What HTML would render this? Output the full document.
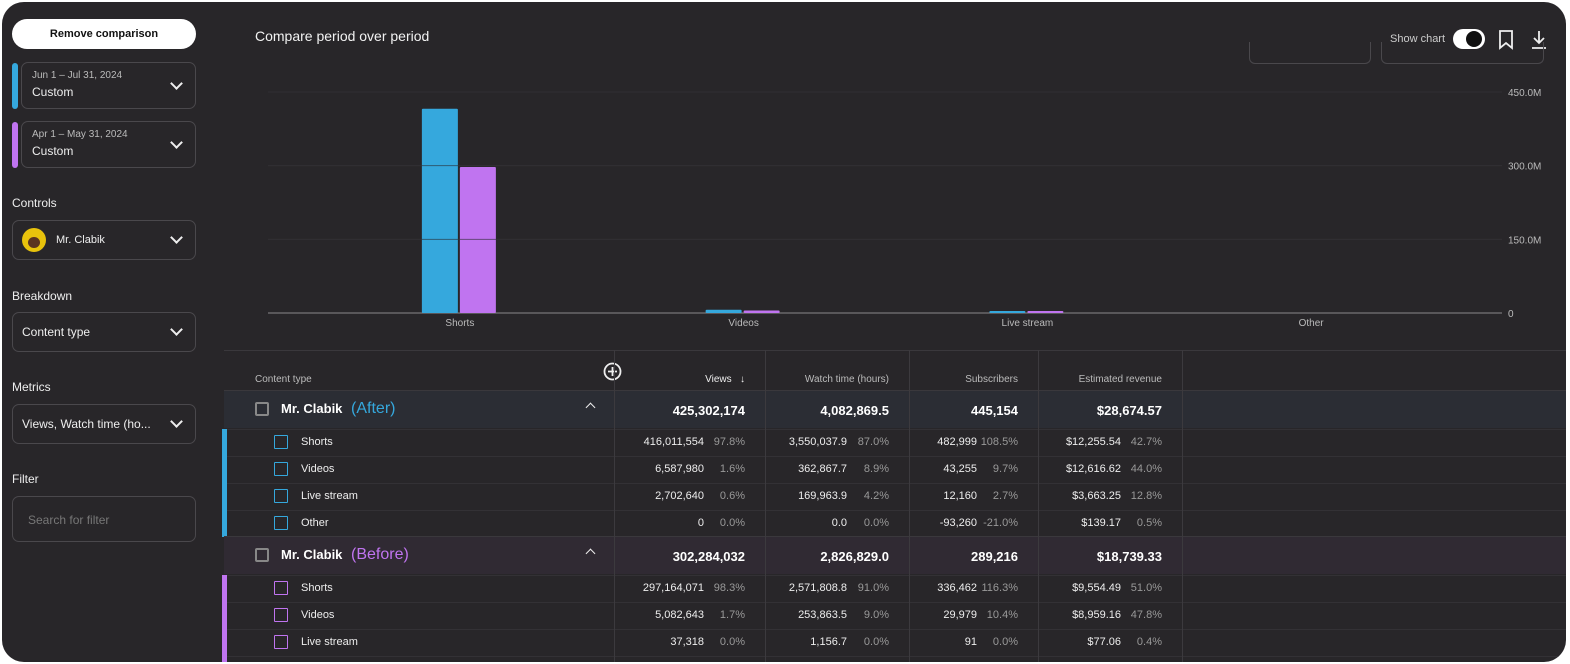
<!DOCTYPE html>
<html><head><meta charset="utf-8"><style>
*{box-sizing:border-box;margin:0;padding:0}
body{width:1570px;height:664px;background:#fff;font-family:"Liberation Sans",sans-serif;overflow:hidden;position:relative}
#panel{position:absolute;left:2px;top:2px;width:1564px;height:660px;background:#282629;border-radius:22px;overflow:hidden;color:#eee}
.abs{position:absolute}
.box{position:absolute;border:1px solid #4a484c;border-radius:7px}
.chev{position:absolute;width:9px;height:9px;border-right:2px solid #eee;border-bottom:2px solid #eee;transform:rotate(45deg)}
</style></head><body>
<div id="panel">
<div class="abs" style="left:10px;top:17px;width:184px;height:30px;background:#fff;border-radius:15px;color:#111;font-size:11px;font-weight:bold;text-align:center;line-height:30px">Remove comparison</div>
<div class="abs" style="left:10px;top:61px;width:6px;height:46px;background:#35a8dd;border-radius:3px"></div>
<div class="box" style="left:19px;top:60px;width:175px;height:47px">
 <div class="abs" style="left:10px;top:7px;font-size:10px;color:#bbb">Jun 1 – Jul 31, 2024</div>
 <div class="abs" style="left:10px;top:22px;font-size:12px">Custom</div>
 <div class="chev" style="left:150px;top:16px"></div></div>
<div class="abs" style="left:10px;top:120px;width:6px;height:46px;background:#c074f0;border-radius:3px"></div>
<div class="box" style="left:19px;top:119px;width:175px;height:47px">
 <div class="abs" style="left:10px;top:7px;font-size:10px;color:#bbb">Apr 1 – May 31, 2024</div>
 <div class="abs" style="left:10px;top:22px;font-size:12px">Custom</div>
 <div class="chev" style="left:150px;top:16px"></div></div>
<div class="abs" style="left:10px;top:194px;font-size:12px">Controls</div>
<div class="box" style="left:10px;top:218px;width:184px;height:40px">
 <div class="abs" style="left:9px;top:7px;width:24px;height:24px;border-radius:50%;background:#e8c20c"><div class="abs" style="left:6px;top:9px;width:12px;height:11px;border-radius:50%;background:#5a3320"></div></div>
 <div class="abs" style="left:43px;top:13px;font-size:11px">Mr. Clabik</div>
 <div class="chev" style="left:159px;top:12px"></div></div>
<div class="abs" style="left:10px;top:287px;font-size:12px">Breakdown</div>
<div class="box" style="left:10px;top:310px;width:184px;height:40px">
 <div class="abs" style="left:9px;top:12px;font-size:12px">Content type</div>
 <div class="chev" style="left:159px;top:12px"></div></div>
<div class="abs" style="left:10px;top:378px;font-size:12px">Metrics</div>
<div class="box" style="left:10px;top:402px;width:184px;height:40px">
 <div class="abs" style="left:9px;top:12px;font-size:12px">Views, Watch time (ho...</div>
 <div class="chev" style="left:159px;top:12px"></div></div>
<div class="abs" style="left:10px;top:470px;font-size:12px">Filter</div>
<div class="box" style="left:10px;top:494px;width:184px;height:46px">
 <div class="abs" style="left:15px;top:16px;font-size:12px;color:#777">Search for filter</div></div>

<div class="abs" style="left:253px;top:26px;font-size:14px;color:#f2f2f2">Compare period over period</div>
<div class="abs" style="left:1388px;top:31px;font-size:11px;color:#ccc">Show chart</div>
<div class="abs" style="left:1451px;top:27px;width:32px;height:20px;border-radius:10px;background:#fff"><div class="abs" style="left:13px;top:2px;width:16px;height:16px;border-radius:50%;background:#111"></div></div>
<svg class="abs" style="left:1496px;top:28px" width="16" height="20"><path d="M2 1h12v17l-6-5-6 5z" fill="none" stroke="#eee" stroke-width="1.8"/></svg>
<svg class="abs" style="left:1529px;top:28px" width="16" height="20"><path d="M8 1v12M3 8l5 5 5-5M1 18h14" fill="none" stroke="#eee" stroke-width="1.8"/></svg>
<div class="abs" style="left:1247px;top:40px;width:122px;height:22px;border:1px solid #4a484c;border-top:none;border-radius:0 0 6px 6px"></div>
<div class="abs" style="left:1379px;top:40px;width:163px;height:22px;border:1px solid #4a484c;border-top:none;border-radius:0 0 6px 6px"></div>

<svg id="chart" class="abs" style="left:0;top:0" width="1564" height="340"></svg>
<div id="table"></div>
</div>
<script>
const categories=["Shorts","Videos","Live stream","Other"];
const afterViews=[416011554,6587980,2702640,0];
const beforeViews=[297164071,5082643,37318,0];
const yTicks=[0,150e6,300e6,450e6];
const yTickLabels=["0","150.0M","300.0M","450.0M"];
const NS="http://www.w3.org/2000/svg";
const svg=document.getElementById('chart');
const X0=266,X1=1500,Y0=311,YT=90,YMAX=450e6;
const C0=316,C1=1451;
const band=(C1-C0)/categories.length;
const y=v=>Y0-(v/YMAX)*(Y0-YT);
const xc=i=>C0+band*(i+0.5);
function mk(t,a){const e=document.createElementNS(NS,t);for(const k in a)e.setAttribute(k,a[k]);svg.appendChild(e);return e;}
yTicks.forEach((t,i)=>{
 const l=mk('line',{x1:X0,x2:X1,y1:y(t),y2:y(t),stroke:i?'#3c3a3e':'#8a888c','stroke-width':1});
 
 
 const tx=mk('text',{x:X1+6,y:y(t)+4,fill:'#bbb','font-size':10,'font-family':'Liberation Sans'});
 tx.textContent=yTickLabels[i];
 
 
});
categories.forEach((c,i)=>{
 const cx=xc(i);
 [[afterViews[i],'#35a8dd',cx-38],[beforeViews[i],'#c074f0',cx]].forEach(([v,col,x])=>{
  if(v<=0)return;
  const h=Math.max(Y0-y(v),2);
  const r=mk('rect',{x:x,y:Y0-h,width:36,height:h,fill:col,rx:1});
  
  
 });
 const tx=mk('text',{x:cx,y:Y0+13,fill:'#bbb','font-size':10,'text-anchor':'middle','font-family':'Liberation Sans'});
 tx.textContent=c;
 
 
});
yTicks.slice(1).forEach(t=>{const l=mk('line',{x1:X0,x2:X1,y1:y(t),y2:y(t),stroke:'#2a282c','stroke-width':1,opacity:0.6});
 
 });

const T=document.getElementById('table');
function div(css,html,name,inter){const d=document.createElement('div');d.style.cssText='position:absolute;white-space:nowrap;'+css;if(html!=null)d.innerHTML=html;
 
 
 T.appendChild(d);return d;}
const groups=[
 {label:'(After)',color:'#35a8dd',bg:'#2b2d34',top:388,tot:['425,302,174','4,082,869.5','445,154','$28,674.57'],
  rows:[['Shorts','416,011,554','97.8%','3,550,037.9','87.0%','482,999','108.5%','$12,255.54','42.7%'],
   ['Videos','6,587,980','1.6%','362,867.7','8.9%','43,255','9.7%','$12,616.62','44.0%'],
   ['Live stream','2,702,640','0.6%','169,963.9','4.2%','12,160','2.7%','$3,663.25','12.8%'],
   ['Other','0','0.0%','0.0','0.0%','-93,260','-21.0%','$139.17','0.5%']]},
 {label:'(Before)',color:'#c074f0',bg:'#302a33',top:534,tot:['302,284,032','2,826,829.0','289,216','$18,739.33'],
  rows:[['Shorts','297,164,071','98.3%','2,571,808.8','91.0%','336,462','116.3%','$9,554.49','51.0%'],
   ['Videos','5,082,643','1.7%','253,863.5','9.0%','29,979','10.4%','$8,959.16','47.8%'],
   ['Live stream','37,318','0.0%','1,156.7','0.0%','91','0.0%','$77.06','0.4%'],
   ['Other','','','','','','','','']]}];
div('left:222px;right:0;top:348px;height:1px;background:#3a383c','','table-top-border');
div('left:253px;top:372px;font-size:10px;color:#bbb','Content type','content-type-header');
div('left:601px;top:360px;width:19px;height:19px','<svg width="19" height="19"><circle cx="9.5" cy="9.5" r="8" fill="none" stroke="#eee" stroke-width="1.8"/><path d="M9.5 5v9M5 9.5h9" stroke="#eee" stroke-width="1.8"/></svg>','add-metric-button',true);
div('right:821px;top:372px;font-size:10px;color:#eee','Views &nbsp;&nbsp;↓','views-header',true);
div('right:677px;top:372px;font-size:10px;color:#bbb','Watch time (hours)','watch-time-header',true);
div('right:548px;top:372px;font-size:10px;color:#bbb','Subscribers','subscribers-header',true);
div('right:404px;top:372px;font-size:10px;color:#bbb','Estimated revenue','revenue-header',true);
const numR=[702,845,975,1119], pctR=[743,887,1016,1160];
groups.forEach(g=>{
 div(`left:222px;right:0;top:${g.top}px;height:38px;background:${g.bg};border-top:1px solid #3a383c`,'','group-row');
 div(`left:253px;top:${g.top+12}px;width:14px;height:14px;border:2px solid #888;border-radius:2px`,'','group-checkbox',true);
 div(`left:279px;top:${g.top+10}px;font-size:13px;font-weight:bold;color:#fff`,`Mr. Clabik <span style="color:${g.color};font-weight:normal;font-size:16px;margin-left:5px">${g.label}</span>`,'group-label');
 div(`left:585px;top:${g.top+14}px;width:7px;height:7px;border-left:1.5px solid #eee;border-top:1.5px solid #eee;transform:rotate(45deg)`,'','collapse-button',true);
 g.tot.forEach((v,j)=>div(`right:${1564-pctR[j]}px;top:${g.top+13}px;font-size:13px;font-weight:bold;color:#fff`,v,'group-total'));
 g.rows.forEach((r,k)=>{
  const t=g.top+39+k*27;
  div(`left:222px;right:0;top:${t}px;height:27px;border-top:1px solid #333135`,'','child-row');
  div(`left:220px;top:${t}px;width:5px;height:27px;background:${g.color}`,'','row-color-bar');
  div(`left:272px;top:${t+6}px;width:14px;height:14px;border:1.5px solid ${g.color};border-radius:1px`,'','row-checkbox',true);
  div(`left:299px;top:${t+7}px;font-size:11px;color:#eee`,r[0],'row-label');
  for(let j=0;j<4;j++){
   div(`right:${1564-numR[j]}px;top:${t+7}px;font-size:11px;color:#eee`,r[1+2*j],'cell-value');
   div(`right:${1564-pctR[j]}px;top:${t+7}px;font-size:11px;color:#999`,r[2+2*j],'cell-percent');
  }
 });
});
[612,763,907,1036,1180].forEach(x=>div(`left:${x}px;top:348px;bottom:0;width:1px;background:#3c3a3e`,'','column-divider'));
</script>
</body></html>
